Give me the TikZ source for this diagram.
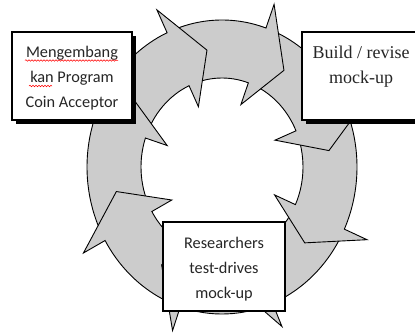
\documentclass[tikz,border=0pt]{standalone}
\usepackage{fontspec}
\setmainfont{Carlito}
\newfontfamily\buildfont{Liberation Serif}
\usetikzlibrary{calc,shadows,decorations.pathmorphing}
\definecolor{ringgray}{RGB}{204,204,204}
\newcommand\ringarrow[3]{%
  \draw[seg] ($(C)+(#1:135 and 147)$) arc[start angle=#1, end angle=#2, x radius=135, y radius=147]
    -- ($(C)+(#2:160 and 172)$) -- ($(C)+(#3:108 and 118)$) -- ($(C)+(#2:58 and 66)$)
    -- ($(C)+(#2:81 and 89)$) arc[start angle=#2, end angle=#1, x radius=81, y radius=89] -- cycle;}
\begin{document}
\begin{tikzpicture}[x=1pt,y=-1pt,
  seg/.style={fill=ringgray, draw=black, line width=0.9pt, line join=miter},
  shadowbox/.style={draw=black, fill=white, line width=1.3pt, inner sep=0pt,
    drop shadow={shadow xshift=4pt, shadow yshift=-4pt, opacity=1, fill=black}},
  thickbox/.style={draw=black, fill=white, line width=2.6pt, inner sep=0pt},
  sanstext/.style={font=\fontsize{16.3}{25}\selectfont, align=center, inner sep=0pt, anchor=north, text=black!85},
  seriftext/.style={font=\buildfont\fontsize{18}{25}\selectfont, align=center, inner sep=0pt, anchor=north, text=black!85},
  squig/.style={red, line width=0.5pt, decorate, decoration={snake, amplitude=0.8pt, segment length=3pt}}]
\useasboundingbox (0,0) rectangle (415,333);
\coordinate (C) at (222,167);
% ring of arrows (clockwise)
\ringarrow{25}{68}{84}
\ringarrow{-24}{25}{40}
\ringarrow{289}{336}{352}
\ringarrow{246}{289}{305}
\ringarrow{199}{246}{262}
\ringarrow{150}{199}{215}
\ringarrow{108}{150}{168}
\ringarrow{68}{108}{124}
% boxes
\node[shadowbox, minimum width=120pt, minimum height=88pt] (mbox) at (72,76) {};
\node[sanstext] (mtext) at (72,45.6) {Mengembang\\kan Program\\Coin Acceptor};
\draw[squig] (25,60.5) -- (118,60.5);
\draw[squig] (29,86) -- (52,86);
\node[shadowbox, minimum width=120pt, minimum height=88pt] (bbox) at (362,76) {};
\node[seriftext] (btext) at (361,46) {Build / revise\\mock-up};
\node[thickbox, minimum width=122pt, minimum height=89pt] (rbox) at (224,266.5) {};
\node[sanstext] (rtext) at (224,236.6) {Researchers\\test-drives\\mock-up};
\end{tikzpicture}
\end{document}
